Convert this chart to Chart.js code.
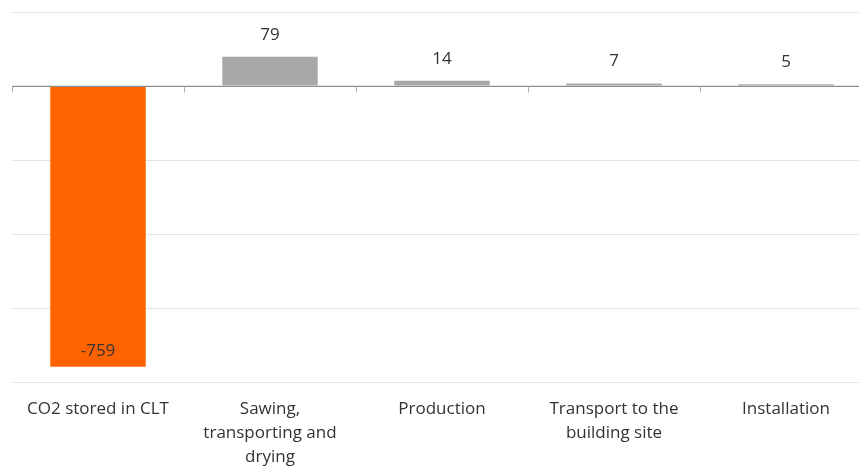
<!DOCTYPE html>
<html>
<head>
<meta charset="utf-8">
<script src="https://cdn.jsdelivr.net/npm/chart.js@4/dist/chart.umd.min.js"></script>
<style>
  html, body { margin: 0; padding: 0; background: #fff; overflow: hidden; }
  #wrap { width: 880px; height: 466px; }
</style>
</head>
<body>
<div id="wrap"><canvas id="c" width="880" height="466"></canvas></div>
<script>
// Life-cycle CO2 balance of cross-laminated timber (kg CO2e per m3)
const categories = [
  ["CO2 stored in CLT"],
  ["Sawing,", "transporting and", "drying"],
  ["Production"],
  ["Transport to the", "building site"],
  ["Installation"]
];
const values = [-759, 79, 14, 7, 5];
const barColors = ["#FF6200", "#A8A8A8", "#A8A8A8", "#A8A8A8", "#A8A8A8"];
const yTicks = [200, 0, -200, -400, -600, -800];

const FONT = "'Open Sans', sans-serif";
const TEXT = "#333333";

// value labels: above positive bars, inside the base of negative bars
const valueLabels = {
  id: "valueLabels",
  afterDatasetsDraw(chart) {
    const ctx = chart.ctx;
    const meta = chart.getDatasetMeta(0);
    ctx.save();
    ctx.font = "17px " + FONT;
    ctx.fillStyle = TEXT;
    ctx.textAlign = "center";
    ctx.textBaseline = "middle";
    meta.data.forEach((bar, i) => {
      const v = values[i];
      const y = v >= 0 ? bar.y - 22 : bar.y - 16;
      ctx.fillText(String(v), bar.x, y);
    });
    ctx.restore();
  }
};

// baseline at zero with small marks between categories
const zeroAxis = {
  id: "zeroAxis",
  afterDatasetsDraw(chart) {
    const { ctx, chartArea } = chart;
    const x = chart.scales.x, y = chart.scales.y;
    const y0 = Math.round(y.getPixelForValue(0)) + 0.5;
    ctx.save();
    ctx.strokeStyle = "#8c8c8c";
    ctx.lineWidth = 1;
    ctx.beginPath();
    ctx.moveTo(chartArea.left, y0);
    ctx.lineTo(chartArea.right, y0);
    ctx.stroke();
    ctx.strokeStyle = "#b0b0b0";
    ctx.beginPath();
    for (let i = 0; i <= categories.length; i++) {
      const px = Math.round(x.getPixelForValue(i - 0.5)) + 0.5;
      ctx.moveTo(px, y0);
      ctx.lineTo(px, y0 + 6);
    }
    ctx.stroke();
    ctx.restore();
  }
};

new Chart(document.getElementById("c"), {
  type: "bar",
  data: {
    labels: categories,
    datasets: [{
      data: values,
      backgroundColor: barColors,
      borderWidth: 0,
      categoryPercentage: 1,
      barPercentage: 0.555
    }]
  },
  options: {
    responsive: false,
    animation: false,
    events: [],
    layout: { padding: { left: 12, right: 8, top: 12, bottom: 0 } },
    plugins: { legend: { display: false }, tooltip: { enabled: false } },
    scales: {
      x: {
        grid: { display: false },
        border: { display: false },
        ticks: {
          color: TEXT,
          font: { family: FONT, size: 17, lineHeight: 24 / 17 },
          padding: 7,
          maxRotation: 0,
          autoSkip: false
        },
        afterFit(scale) { scale.height = 84; }
      },
      y: {
        min: -800,
        max: 200,
        afterBuildTicks(scale) { scale.ticks = yTicks.map(v => ({ value: v })); },
        grid: { color: "#e4e4e4", lineWidth: 1, drawTicks: false },
        border: { display: false },
        ticks: { display: false },
        afterFit(scale) { scale.width = 0; }
      }
    }
  },
  plugins: [valueLabels, zeroAxis]
});
</script>
</body>
</html>
